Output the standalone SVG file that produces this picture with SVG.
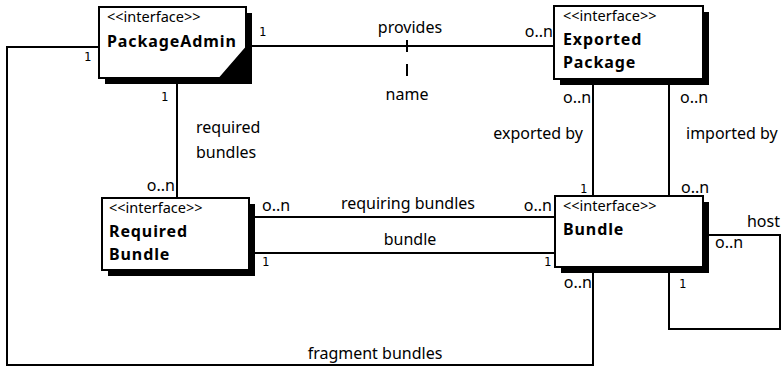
<svg xmlns="http://www.w3.org/2000/svg" width="782" height="369" viewBox="0 0 782 369">
<style>
.box{fill:#fff;stroke:#000;stroke-width:2}
.sh{fill:#000}
.st{font-family:"Noto Sans",sans-serif;font-size:14.5px}
.nm{font-family:"Noto Sans",sans-serif;font-size:16px;font-weight:bold;letter-spacing:0.9px}
.lb{font-family:"Noto Sans",sans-serif;font-size:16px}
.one{font-family:"DejaVu Sans Mono",monospace;font-size:12px}
.ln{fill:none;stroke:#000;stroke-width:2}
</style>
<rect width="782" height="369" fill="#fff"/>
<g id="connectors">
<polyline class="ln" points="99,47 7,47 7,365 593,365 593,273"/>
<line class="ln" x1="246" y1="46" x2="554" y2="46"/>
<line class="ln" x1="407" y1="40" x2="407" y2="80" stroke-dasharray="12,12"/>
<line class="ln" x1="177" y1="84" x2="177" y2="198"/>
<line class="ln" x1="593" y1="79" x2="593" y2="196"/>
<line class="ln" x1="669" y1="85" x2="669" y2="196"/>
<line class="ln" x1="255" y1="217" x2="555" y2="217"/>
<line class="ln" x1="249" y1="253" x2="555" y2="253"/>
<polyline class="ln" points="709,235 780,235 780,329 669,329 669,273"/>
<text class="lb" x="410" y="33" text-anchor="middle">provides</text>
<text class="lb" x="407" y="100" text-anchor="middle">name</text>
<text class="one" x="259" y="36">1</text>
<text class="one" x="84" y="61">1</text>
<text class="lb" x="553" y="37" text-anchor="end">o..n</text>
<text class="one" x="161" y="101">1</text>
<text class="lb" x="196" y="133">required</text>
<text class="lb" x="196" y="158">bundles</text>
<text class="lb" x="175" y="191" text-anchor="end">o..n</text>
<text class="lb" x="563" y="103">o..n</text>
<text class="lb" x="680" y="103">o..n</text>
<text class="lb" x="583" y="139" text-anchor="end">exported by</text>
<text class="lb" x="686" y="139">imported by</text>
<text class="one" x="580" y="193">1</text>
<text class="lb" x="681" y="193">o..n</text>
<text class="lb" x="262" y="211">o..n</text>
<text class="lb" x="408" y="209" text-anchor="middle">requiring bundles</text>
<text class="lb" x="552" y="211" text-anchor="end">o..n</text>
<text class="lb" x="410" y="245" text-anchor="middle">bundle</text>
<text class="one" x="262" y="266">1</text>
<text class="one" x="544" y="266">1</text>
<text class="lb" x="780" y="227" text-anchor="end">host</text>
<text class="lb" x="715" y="248">o..n</text>
<text class="one" x="679" y="288">1</text>
<text class="lb" x="592" y="288" text-anchor="end">o..n</text>
<text class="lb" x="375" y="359" text-anchor="middle">fragment bundles</text>
</g>
<g id="PackageAdmin">
<rect class="sh" x="105" y="13" width="147" height="71"/>
<polygon class="box" points="99,7 246,7 246,48 220,78 99,78"/>
<text class="st" x="107" y="22">&lt;&lt;interface&gt;&gt;</text>
<text class="nm" x="107" y="47">PackageAdmin</text>
</g>
<g id="ExportedPackage">
<rect class="sh" x="560" y="12" width="149" height="73"/>
<rect class="box" x="554" y="6" width="149" height="73"/>
<text class="st" x="563" y="21">&lt;&lt;interface&gt;&gt;</text>
<text class="nm" x="563" y="45">Exported</text>
<text class="nm" x="563" y="68">Package</text>
</g>
<g id="RequiredBundle">
<rect class="sh" x="108" y="204" width="147" height="72"/>
<rect class="box" x="102" y="198" width="147" height="72"/>
<text class="st" x="109" y="213">&lt;&lt;interface&gt;&gt;</text>
<text class="nm" x="109" y="237">Required</text>
<text class="nm" x="109" y="260">Bundle</text>
</g>
<g id="Bundle">
<rect class="sh" x="561" y="202" width="148" height="71"/>
<rect class="box" x="555" y="196" width="148" height="71"/>
<text class="st" x="563" y="211">&lt;&lt;interface&gt;&gt;</text>
<text class="nm" x="563" y="235">Bundle</text>
</g>
</svg>
